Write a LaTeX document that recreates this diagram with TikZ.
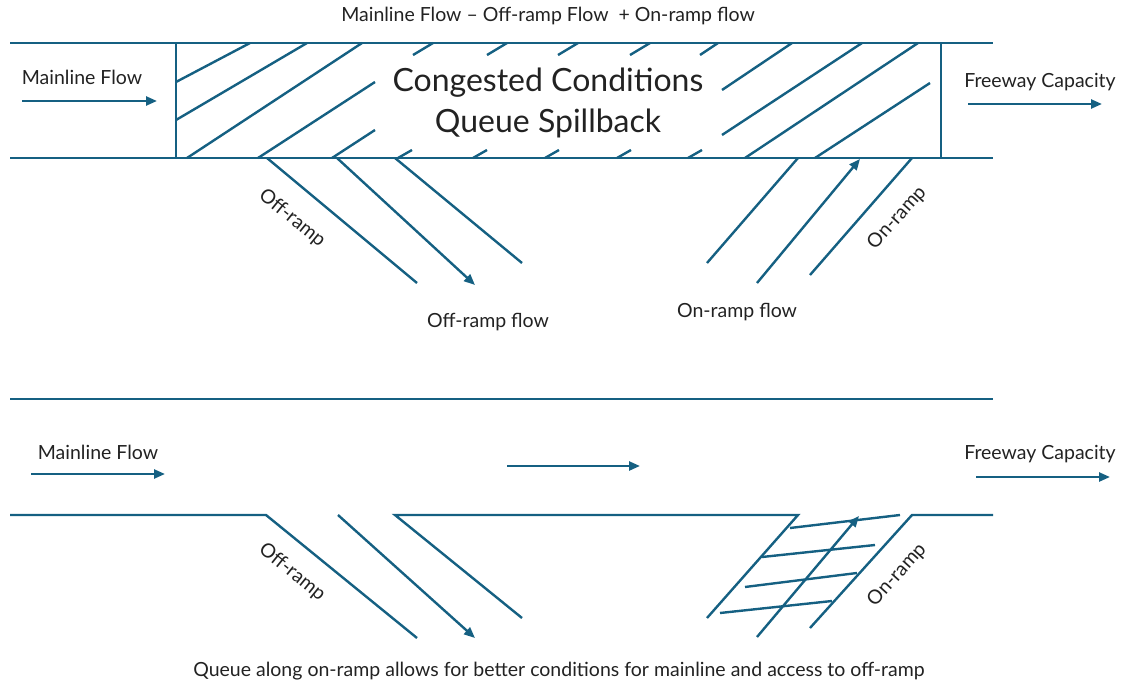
\documentclass[tikz,border=0pt]{standalone}
\usepackage{fontspec}
\setmainfont{Lato}
\usetikzlibrary{arrows.meta}
\definecolor{roadblue}{HTML}{156082}
\definecolor{txtgray}{HTML}{222222}

\begin{document}
\begin{tikzpicture}[x=1pt,y=-1pt,
  road/.style={draw=roadblue,line width=2.4pt},
  flow/.style={road,-{Triangle[length=11pt,width=9pt]}},
  lbl/.style={text=txtgray,inner sep=0pt,font=\fontsize{19.5}{23}\selectfont},
  big/.style={lbl,align=center,font=\fontsize{32}{41}\selectfont}]
\useasboundingbox (0,0) rectangle (1122,685);

% freeway with queue spillback
\draw[road] (10,43) -- (993,43);
\draw[road] (10,158) -- (993,158);
\draw[road] (176,43) -- (176,158);
\draw[road] (941,43) -- (941,158);
% hatching of the congested section
\foreach \xa/\ya/\xb/\yb in {176/82/250/43, 176/120/307/43, 187/158/362/43,
    258/158/375/82, 332/158/375/130,
    413/55/433/43, 487/55/507/43, 558/55/578/43, 630/55/650/43, 700/55/718/43,
    398/158/412/150, 473/158/487/150, 545/158/559/150, 617/158/631/150, 688/158/702/150,
    722/90/792/43, 722/135/862/43, 745/158/918/43, 815/158/930/83} {
  \draw[road] (\xa,\ya) -- (\xb,\yb);
}
\node[big] (queue) at (548,103) {Congested Conditions\\Queue Spillback};
\node[lbl] (title) at (548,16) {Mainline Flow – Off-ramp Flow\ \ + On-ramp flow};
\node[lbl] (mlTop) at (82,77) {Mainline Flow};
\draw[flow] (22,101) -- (157,101);
\node[lbl] (fcTop) at (1040,82) {Freeway Capacity};
\draw[flow] (968,104) -- (1102,104);

% ramps
\draw[road] (267,158) -- (417,283);
\draw[flow] (337,158) -- (475,285);
\draw[road] (395,158) -- (522,263);
\draw[road] (798,158) -- (707,263);
\draw[flow] (757,283) -- (860,159);
\draw[road] (912,158) -- (810,275);
\node[lbl,rotate=-39] (offTop) at (292,218) {Off-ramp};
\node[lbl] (offFlow) at (488,322) {Off-ramp flow};
\node[lbl,rotate=48] (onTop) at (897,218) {On-ramp};
\node[lbl] (onFlow) at (737,312) {On-ramp flow};

% freeway with queue held on the on-ramp
\draw[road] (10,399) -- (993,399);
\draw[road] (10,515) -- (266,515) -- (417,638);
\draw[flow] (338,515) -- (475,638);
\draw[road] (522,618) -- (395,515) -- (798,515) -- (707,618);
\draw[flow] (757,637) -- (859,516);
\draw[road] (810,628) -- (912,515) -- (993,515);
% queued vehicles
\foreach \xa/\ya/\xb/\yb in {790/528/900/515, 762/557/875/545,
    745/587/857/573, 720/613/832/601} {
  \draw[road] (\xa,\ya) -- (\xb,\yb);
}
\node[lbl] (mlBot) at (98,452) {Mainline Flow};
\draw[flow] (31,474) -- (165,474);
\draw[flow] (507,466) -- (640,466);
\node[lbl] (fcBot) at (1040,454) {Freeway Capacity};
\draw[flow] (976,477) -- (1110,477);
\node[lbl,rotate=-39] (offBot) at (292,572) {Off-ramp};
\node[lbl,rotate=48] (onBot) at (897,575) {On-ramp};
\node[lbl] (caption) at (559,671) {Queue along on-ramp allows for better conditions for mainline and access to off-ramp};
\end{tikzpicture}
\end{document}
